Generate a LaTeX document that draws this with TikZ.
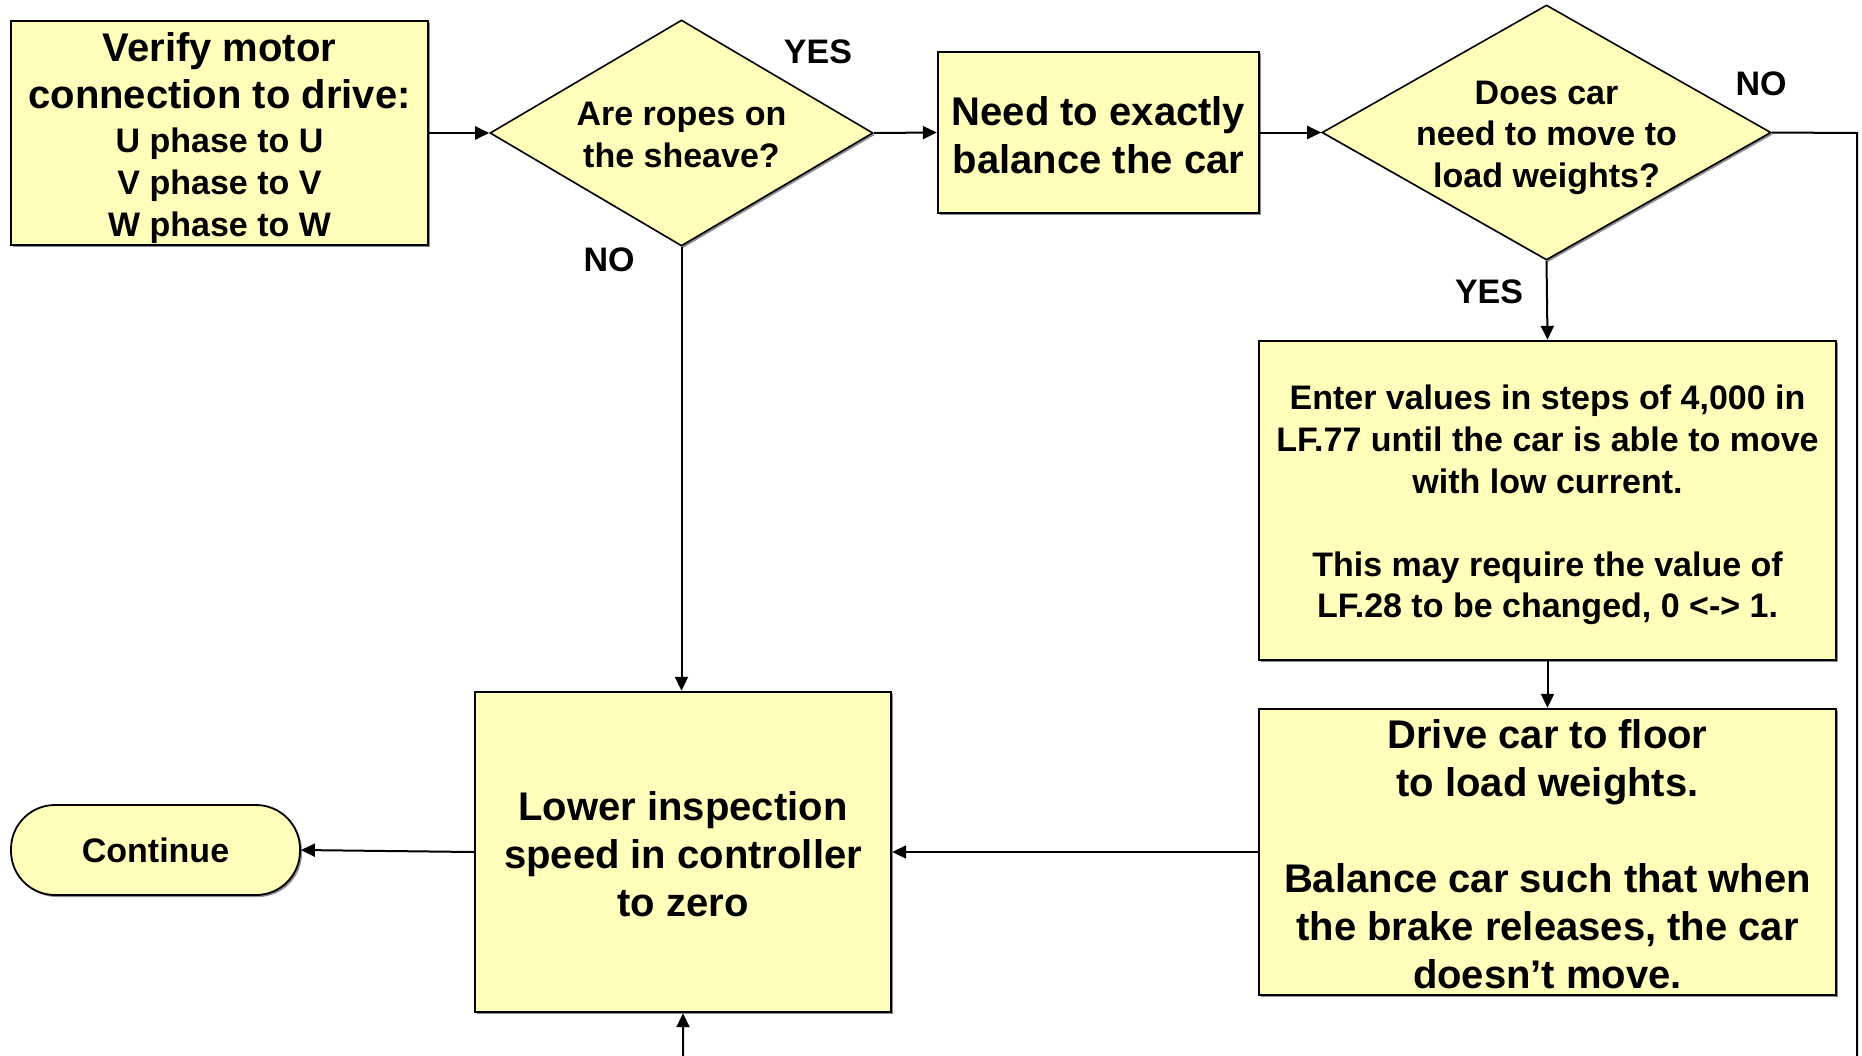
\documentclass[tikz,border=0pt]{standalone}
\usepackage{fontspec}
\setmainfont{Liberation Sans}
\usetikzlibrary{arrows.meta,shapes.geometric,shadows}

\definecolor{boxfill}{HTML}{FFFFBB}

% strut that sets the height of a node's first line
\newcommand{\firstline}[1]{\rule{0pt}{#1}}

\tikzset{
  big/.style={font=\bfseries\fontsize{20}{24}\selectfont},
  small/.style={font=\bfseries\fontsize{17}{20.8}\selectfont},
  shade/.style={drop shadow={shadow xshift=1pt,shadow yshift=-1pt,fill=black!45,opacity=1}},
  procbox/.style={rectangle,draw=black,line width=1.2pt,fill=boxfill,shade,
                  align=center,inner sep=0pt},
  decision/.style={diamond,draw=black,line width=0.8pt,fill=boxfill,shade,
                   align=center,small},
  terminal/.style={rectangle,rounded corners=22pt,draw=black,line width=0.9pt,
                   fill=boxfill,shade,align=center,small,inner sep=0pt},
  flow/.style={draw=black,line width=1pt,-{Triangle[length=7pt,width=6.5pt]}},
  answer/.style={small,inner sep=0pt}
}

\begin{document}
\begin{tikzpicture}[x=0.5pt,y=-0.5pt]
  \useasboundingbox (0,0) rectangle (1862,1055);

  % process boxes and decisions
  \node[procbox,small,minimum width=208.5pt,minimum height=112pt] (verify) at (219.5,133)
    {{\fontsize{20}{24}\selectfont\firstline{19.5pt}Verify motor}\\[2.5pt]
     {\fontsize{20}{24}\selectfont connection to drive:}\\[1.5pt]
     U phase to U\\V phase to V\\W phase to W};

  \node[decision,aspect=1.69,inner sep=0pt,minimum width=191.5pt,minimum height=113pt]
    (ropes) at (681.5,133) {\firstline{13.6pt}Are ropes on\\the sheave?};

  \node[procbox,big,minimum width=160.5pt,minimum height=80.5pt] (balance) at (1098.5,132.5)
    {\firstline{17pt}Need to exactly\\balance the car};

  \node[decision,aspect=1.76,inner sep=-4pt,minimum width=224.5pt,minimum height=127.5pt]
    (move) at (1546.5,132.5) {\firstline{17pt}Does car\\need to move to\\load weights?};

  \node[procbox,small,minimum width=288.5pt,minimum height=159.5pt] (enter) at (1547.5,500.5)
    {\firstline{17pt}Enter values in steps of 4,000 in\\LF.77 until the car is able to move\\with low current.\\[20.8pt]
     This may require the value of\\LF.28 to be changed, 0 <-> 1.};

  \node[procbox,big,minimum width=288.5pt,minimum height=143pt] (drive) at (1547.5,852)
    {\firstline{17pt}Drive car to floor\\to load weights.\\[24pt]
     Balance car such that when\\the brake releases, the car\\doesn’t move.};

  \node[procbox,big,minimum width=208pt,minimum height=160pt] (lower) at (683,852)
    {\firstline{17pt}Lower inspection\\speed in controller\\to zero};

  \node[terminal,minimum width=144.5pt,minimum height=45pt] (cont) at (155.5,850) {Continue};

  % branch answers
  \node[answer] (yes1) at (818,52) {YES};
  \node[answer] (no1) at (609,260) {NO};
  \node[answer] (no2) at (1761,84) {NO};
  \node[answer] (yes2) at (1489,292) {YES};

  % connectors
  \draw[flow] (verify.east) -- (ropes.west);
  \draw[flow] (ropes.east) -- (balance.west);
  \draw[flow] (balance.east) -- (move.west);
  \draw[flow] (move.south) -- (enter.north);
  \draw[flow] (enter.south) -- (drive.north);
  \draw[flow] (drive.west) -- (lower.east);
  \draw[flow] (ropes.south) -- (ropes.south |- lower.north);
  \draw[flow] (lower.west) -- (cont.east);

  % the NO branch of the second decision runs down the right side and
  % returns below the page into the bottom of the lower box
  \begin{scope}
    \clip (0,0) rectangle (1862,1055);
    \coordinate (railtop) at (1857,133);
    \coordinate (railbot) at (1857,1100);
    \draw[flow] (move.east) -- (railtop) -- (railbot) -- (lower.south |- railbot) -- (lower.south);
  \end{scope}
\end{tikzpicture}
\end{document}
